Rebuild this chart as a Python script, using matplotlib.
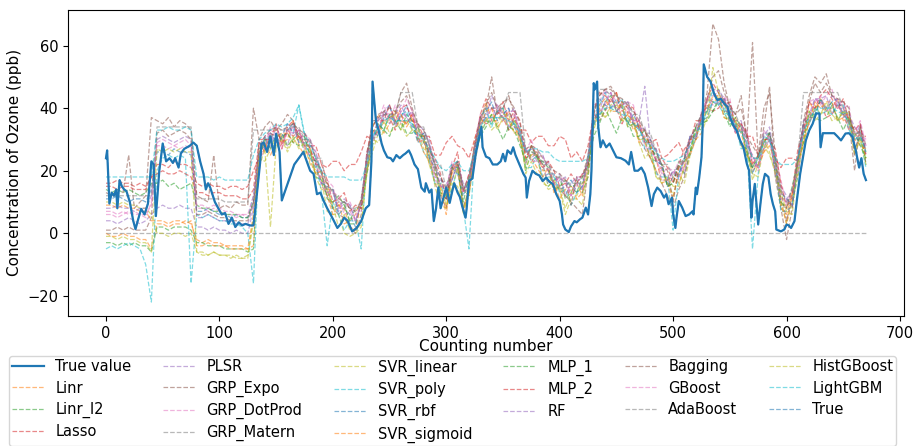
import numpy as np
import matplotlib
matplotlib.use('Agg')
import matplotlib.pyplot as plt

# measured ozone (counting number, ppb)
true_x = [0, 1, 3, 5, 7, 9, 10, 12, 14, 16, 18, 21, 24, 26, 28, 31, 34, 37, 40, 42, 44, 47, 50, 53, 56, 59,
          61, 64, 66, 69, 74, 77, 80, 83, 86, 88, 90, 92, 96, 99, 102, 105, 108, 111, 114, 117, 120, 123,
          127, 130, 133, 136, 137, 139, 142, 145, 148, 150, 153, 155, 166, 170, 174, 177, 180, 183, 186,
          189, 192, 195, 198, 201, 204, 207, 210, 213, 217, 221, 225, 229, 232, 234, 235, 238, 241, 243,
          245, 248, 251, 253, 256, 259, 262, 264, 267, 269, 272, 275, 278, 281, 282, 285, 287, 289, 291,
          293, 295, 298, 300, 303, 305, 307, 310, 312, 314, 317, 318, 320, 323, 326, 329, 331, 332, 335,
          338, 341, 345, 348, 350, 352, 354, 357, 359, 361, 365, 368, 370, 371, 373, 376, 379, 382, 385,
          388, 391, 394, 397, 400, 402, 403, 405, 408, 410, 413, 415, 418, 420, 423, 425, 427, 428, 430,
          431, 433, 434, 436, 438, 441, 444, 447, 450, 454, 458, 461, 463, 466, 469, 472, 475, 478, 481,
          483, 486, 489, 492, 494, 496, 499, 500, 502, 503, 505, 508, 511, 514, 517, 518, 520, 521, 523,
          525, 526, 527, 530, 533, 536, 539, 542, 545, 548, 550, 553, 556, 559, 562, 565, 567, 569, 570,
          572, 574, 575, 577, 579, 581, 584, 586, 588, 590, 591, 595, 598, 600, 602, 604, 607, 609, 612,
          615, 617, 620, 623, 626, 629, 630, 632, 637, 642, 645, 648, 652, 655, 658, 661, 664, 666, 668, 670]
true_y = [24, 26.5, 9.5, 13, 12, 14, 8, 17, 15, 14, 13.5, 10, 4, 1.3, 4, 7.8, 6, 9.5, 23, 22, 5.5, 20, 28.7,
          23, 24, 22.5, 24, 21, 25.5, 27, 28, 29, 28, 23, 19, 14, 16, 14.5, 10, 8, 6, 6.5, 3, 5, 2, 3.5,
          2.5, 3, 2.5, 2.5, 12.5, 23, 28.6, 29, 26, 31, 25, 31.8, 26, 10.5, 22, 24, 26, 23, 20, 19, 12.5,
          13, 10.3, 8, 6, 3.9, 1.7, 3, 5, 4, 0.6, 1.7, 3.9, 8, 9, 23, 48.5, 36, 32, 28.7, 26.5, 24.3, 24,
          23, 25, 24, 25, 25.5, 26.5, 25, 22, 20.5, 14.6, 13.3, 16, 13, 14, 3.9, 8, 14.6, 8, 12, 14.6, 9.7,
          13, 16, 13, 11.6, 8.7, 5, 8, 16.7, 17.5, 25.4, 30.7, 34, 27.5, 24.5, 24, 22, 22, 23, 25.4, 23,
          26.5, 25.4, 27.5, 25, 21.6, 19, 17.8, 11.4, 16.7, 20, 19, 18.5, 16.7, 17.8, 16.5, 15.7, 12.5,
          10.3, 6, 2.8, 1.2, 0.4, 2.2, 3.9, 3.5, 4.5, 5, 8.2, 6, 12.5, 20, 48, 46, 48.5, 34, 27.5, 29.7,
          27.5, 28.7, 26.5, 24.3, 24, 23.2, 22, 26, 20, 20, 21, 19, 14.6, 8.7, 12.5, 14.6, 13.5, 11.4,
          12.5, 9.3, 11.4, 6, 1.7, 5, 10.3, 8.2, 5.5, 6, 7, 6, 14.6, 12.5, 17.8, 24.3, 34, 54, 50, 48.5,
          44.7, 42.6, 43, 41.5, 40.4, 37.2, 34.5, 32.9, 29.7, 27.5, 22.2, 20, 5, 10.3, 15.8, 7, 2.8, 9.5,
          15.7, 19, 18, 12.5, 9.3, 7, 1.2, 0.6, 1.2, 2.8, 2.5, 1.7, 3.9, 10.3, 19, 25.4, 29.7, 32.9, 35,
          38.3, 38.3, 27.5, 32, 32, 32, 30.9, 29.7, 31.9, 32, 30.9, 26.5, 21, 24, 19, 17]

# model predictions, every 5th counting number (0 ... 670)
x_grid = list(range(0, 671, 5))

linr = [0, -1, -1, 0, -1, -1, -2, -2, -5, 3, 3, 2, 3, 3, 4, 3, -2, -3, -2, -3, -3, -4, -4, -4, -4, -5, -4,
        29, 26, 32, 33, 29, 30, 36, 28, 25, 27, 19, 18, 16, 8, 10, 3, 4, 6, 11, 22,
        34, 38, 35, 38, 39, 36, 35, 38, 29, 30, 22, 19, 16, 8, 19, 23, 8, 14, 30, 35,
        42, 36, 36, 39, 36, 32, 33, 24, 25, 26, 20, 20, 13, 15, 12, 14, 16, 12, 23, 34,
        40, 41, 43, 45, 36, 38, 35, 29, 31, 28, 24, 16, 17, 18, 16, 21, 30, 30, 32, 43,
        42, 43, 43, 36, 36, 28, 27, 20, 22, 26, 30, 24, 8, 6, 13, 19, 30, 42, 39, 43,
        39, 40, 43, 36, 37, 32, 30, 24]
linr_l2 = [-3, -3, -4, -3, -4, -3, -4, -4, -6, 2, 2, 1, 2, 2, 2, 1, -3, -3, -4, -4, -4, -5, -5, -5, -5, -6, -5,
           25, 30, 27, 31, 32, 28, 30, 32, 26, 26, 18, 17, 14, 8, 9, 10, 3, 3, 10, 20,
           33, 32, 33, 38, 36, 33, 38, 36, 30, 32, 25, 20, 12, 12, 17, 22, 14, 12, 25, 31,
           36, 35, 39, 40, 33, 36, 31, 20, 26, 25, 22, 15, 17, 18, 11, 13, 17, 13, 18, 37,
           37, 42, 44, 39, 41, 34, 35, 34, 30, 24, 23, 22, 15, 16, 22, 19, 26, 34, 33, 40,
           39, 42, 42, 35, 35, 34, 25, 21, 24, 27, 32, 20, 9, 9, 10, 18, 33, 38, 38, 43,
           40, 42, 36, 39, 35, 31, 33, 22]
lasso = [16, 16, 17, 16, 16, 15, 16, 15, 18, 22, 22, 21, 23, 22, 22, 21, 16, 15, 16, 15, 15, 14, 15, 15, 14, 15, 20,
         24, 27, 32, 31, 27, 33, 31, 33, 28, 28, 28, 22, 21, 23, 23, 20, 22, 22, 26, 31,
         30, 33, 38, 37, 33, 38, 35, 38, 31, 31, 31, 25, 25, 29, 31, 28, 27, 24, 30, 37,
         35, 36, 39, 37, 33, 37, 33, 33, 29, 31, 31, 28, 28, 31, 30, 24, 26, 23, 28, 38,
         36, 39, 43, 40, 35, 39, 35, 36, 29, 29, 30, 24, 25, 27, 29, 25, 31, 31, 37, 41,
         39, 40, 43, 38, 32, 35, 31, 31, 25, 29, 32, 24, 21, 24, 24, 23, 32, 35, 40, 42,
         37, 38, 41, 38, 33, 34, 31, 31]
plsr = [4, 4, 3, 4, 5, 4, 3, 4, 6, 8, 9, 8, 8, 9, 8, 8, 2, 2, 1, 2, 1, 1, 0, 1, 0, 0, 8,
        29, 27, 28, 34, 30, 28, 35, 31, 28, 30, 23, 20, 12, 13, 8, 11, 9, 4, 9, 20,
        31, 32, 39, 41, 34, 39, 37, 34, 35, 33, 29, 18, 17, 16, 17, 22, 16, 14, 24, 37,
        37, 40, 41, 38, 40, 34, 33, 26, 27, 23, 23, 23, 15, 17, 18, 12, 15, 19, 20, 38,
        38, 42, 45, 39, 42, 41, 35, 33, 34, 27, 27, 20, 16, 20, 21, 19, 31, 33, 36, 43,
        44, 45, 39, 39, 35, 35, 31, 21, 22, 27, 30, 20, 15, 12, 8, 24, 33, 36, 43, 43,
        44, 38, 42, 42, 36, 30, 35, 25]
grp_expo = [13, 12, 14, 13, 25, 8, 10, 12, 37, 36, 35, 37, 34, 36, 35, 33, 12, 11, 10, 25, 8, 9, 8, 10, 9, 9, 40,
            30, 34, 36, 33, 35, 38, 36, 31, 30, 27, 22, 16, 12, 8, 6, 5, 2, 0, 6, 26,
            34, 38, 39, 37, 38, 45, 48, 40, 34, 30, 24, 16, 12, 8, 20, 23, 8, 14, 28, 37,
            40, 50, 38, 40, 44, 38, 30, 22, 28, 24, 22, 20, 16, 14, 12, 10, 8, 6, 20, 38,
            44, 46, 47, 44, 42, 40, 36, 30, 27, 24, 20, 16, 12, 8, 14, 18, 26, 30, 38, 45,
            67, 62, 48, 40, 38, 44, 30, 61, 24, 34, 47, 18, 8, -2, 8, 24, 36, 44, 50, 48,
            51, 44, 42, 40, 36, 20, 35, 22]
grp_dotprod = [6, 6, 5, 6, 7, 6, 6, 5, 10, 29, 30, 29, 28, 29, 30, 28, 8, 8, 7, 8, 7, 6, 6, 5, 6, 5, 10,
               26, 28, 34, 34, 29, 32, 34, 29, 32, 30, 26, 16, 17, 15, 8, 8, 10, 6, 7, 26,
               30, 36, 41, 36, 41, 35, 40, 38, 33, 29, 28, 23, 15, 14, 23, 20, 13, 19, 25, 36,
               36, 40, 40, 37, 39, 39, 31, 26, 30, 24, 25, 20, 16, 18, 16, 12, 18, 18, 23, 41,
               42, 46, 40, 42, 41, 42, 41, 33, 31, 26, 24, 19, 21, 20, 17, 23, 30, 31, 39, 43,
               47, 41, 43, 43, 34, 33, 33, 23, 21, 33, 30, 25, 17, 9, 14, 20, 33, 42, 43, 41,
               44, 46, 40, 40, 41, 29, 33, 30]
grp_matern = [0, 0, 0, 0, 0, 0, 0, 0, 0, 0, 0, 0, 0, 0, 0, 0, 0, 0, 0, 0, 0, 0, 0, 0, 0, 0, 0,
              0, 0, 0, 0, 0, 0, 0, 0, 0, 0, 0, 0, 0, 0, 0, 0, 0, 0, 0, 0,
              0, 0, 0, 0, 0, 0, 0, 0, 0, 0, 0, 0, 0, 0, 0, 0, 0, 0, 0, 0,
              0, 0, 0, 0, 0, 0, 0, 0, 0, 0, 0, 0, 0, 0, 0, 0, 0, 0, 0, 0,
              0, 0, 0, 0, 0, 0, 0, 0, 0, 0, 0, 0, 0, 0, 0, 0, 0, 0, 0, 0,
              0, 0, 0, 0, 0, 0, 0, 0, 0, 0, 0, 0, 0, 0, 0, 0, 0, 0, 0, 0,
              0, 0, 0, 0, 0, 0, 0, 0]
svr_linear = [10, 10, 9, 10, 9, 9, 8, 8, 6, 0, 0, -1, 0, 0, -1, 0, -6, -7, -7, -6, -7, -7, -7, -8, -8, -7, 5,
              21, 27, 2, 28, 30, 26, 30, 30, 28, 22, 20, 17, 7, 6, 6, 0, -1, 0, 2, 21,
              26, 32, 36, 32, 34, 35, 31, 33, 33, 27, 26, 15, 9, 8, 16, 15, 8, 13, 23, 36,
              36, 38, 33, 37, 34, 36, 33, 19, 23, 19, 17, 14, 15, 14, 6, 11, 11, 9, 21, 36,
              40, 37, 41, 42, 36, 36, 37, 29, 24, 26, 18, 17, 17, 12, 19, 16, 25, 32, 35, 36,
              42, 44, 37, 36, 36, 28, 25, 19, 18, 28, 25, 20, 11, 3, 10, 23, 28, 36, 41, 38,
              42, 38, 36, 39, 35, 25, 31, 24]
svr_poly = [-5, -4, -5, -4, -3, -4, -5, -10, -22, 20, 24, 25, 24, 25, 24, -16, 6, 5, 6, 5, 4, 4, 3, 3, 2, 0, -16,
            27, 28, 32, 30, 31, 35, 32, 41, 31, 24, 23, 13, -4, 10, 6, 1, 4, 4, -5, 25,
            30, 35, 33, 38, 35, 38, 39, 33, 31, 26, 23, 16, 16, 11, 14, 21, 8, -5, 27, 37,
            40, 34, 39, 40, 34, 35, 34, 21, 21, 25, 17, 18, 18, 13, 14, 9, 13, 15, 22, 34,
            41, 45, 40, 41, 43, 35, 34, 35, 27, 27, 19, 18, 18, 1, 19, 24, 25, 31, 38, 39,
            46, 41, 38, 39, 34, 27, 28, -5, 19, 31, 30, 23, 7, 7, 9, 23, 34, 35, 40, 38,
            39, 38, 41, 41, 33, 30, 30, 21]
svr_rbf = [11, 11, 12, 11, 10, 11, 11, 10, 14, 26, 26, 25, 27, 26, 26, 25, 7, 7, 8, 7, 6, 6, 5, 6, 5, 5, 12,
           25, 31, 27, 32, 30, 33, 35, 29, 29, 24, 21, 16, 15, 14, 6, 8, 6, 2, 11, 24,
           33, 31, 37, 41, 35, 37, 41, 35, 29, 32, 24, 21, 18, 11, 21, 19, 12, 17, 27, 33,
           39, 42, 36, 38, 40, 34, 31, 27, 23, 25, 18, 19, 19, 14, 15, 17, 13, 15, 25, 35,
           43, 41, 40, 43, 40, 35, 38, 34, 29, 30, 23, 22, 15, 18, 19, 24, 31, 30, 36, 37,
           42, 41, 43, 41, 32, 33, 28, 19, 24, 31, 32, 19, 13, 11, 9, 22, 35, 37, 37, 43,
           39, 42, 43, 38, 39, 27, 31, 27]
svr_sigmoid = [9, 9, 8, 9, 8, 8, 7, 7, 4, 4, 4, 3, 4, 4, 3, 4, -4, -4, -3, -4, -4, -4, -5, -5, -5, -5, 6,
               26, 29, 25, 29, 32, 32, 29, 31, 28, 23, 19, 20, 12, 6, 9, 8, 2, 1, 10, 20,
               32, 35, 32, 35, 39, 38, 34, 37, 31, 26, 23, 21, 14, 6, 20, 22, 7, 12, 28, 34,
               39, 40, 34, 36, 39, 35, 29, 26, 24, 21, 18, 21, 16, 11, 14, 15, 11, 13, 24, 35,
               41, 43, 39, 39, 42, 38, 33, 35, 29, 24, 20, 21, 16, 11, 21, 23, 25, 30, 38, 39,
               44, 44, 37, 36, 37, 32, 25, 22, 21, 26, 28, 23, 10, 3, 12, 23, 29, 36, 42, 40,
               42, 42, 36, 37, 39, 30, 28, 27]
mlp_1 = [14, 13, 14, 13, 14, 13, 12, 13, 16, 16, 17, 15, 16, 14, 15, 16, 9, 8, 8, 7, 7, 6, 6, 6, 5, 5, 10,
         23, 30, 29, 27, 31, 32, 29, 28, 31, 25, 23, 19, 11, 10, 12, 9, 4, 8, 8, 19,
         28, 35, 33, 31, 36, 36, 32, 32, 34, 29, 27, 22, 13, 11, 21, 21, 10, 18, 25, 31,
         34, 38, 34, 30, 34, 33, 28, 23, 28, 24, 23, 21, 14, 15, 17, 15, 13, 18, 22, 31,
         35, 40, 36, 32, 37, 36, 31, 31, 33, 27, 25, 22, 15, 16, 23, 23, 26, 34, 35, 36,
         39, 43, 39, 34, 37, 34, 26, 21, 25, 29, 32, 24, 10, 8, 15, 23, 29, 39, 37, 36,
         37, 41, 37, 33, 37, 32, 28, 24]
mlp_2 = [15, 15, 14, 15, 15, 14, 14, 14, 18, 19, 20, 19, 19, 20, 19, 18, 13, 13, 12, 13, 13, 12, 12, 12, 11, 11, 14,
         30, 30, 30, 35, 28, 34, 36, 30, 32, 27, 22, 22, 17, 10, 11, 13, 7, 9, 8, 25,
         36, 36, 36, 41, 36, 40, 41, 36, 35, 31, 26, 24, 19, 11, 21, 26, 13, 19, 26, 38,
         43, 40, 38, 42, 36, 39, 36, 24, 28, 25, 21, 23, 20, 15, 16, 19, 16, 19, 22, 39,
         45, 44, 42, 45, 39, 41, 40, 33, 33, 28, 23, 24, 21, 16, 22, 27, 29, 36, 36, 43,
         48, 45, 41, 42, 34, 35, 32, 22, 25, 30, 30, 27, 16, 8, 13, 27, 33, 42, 40, 44,
         46, 43, 40, 43, 36, 33, 35, 25]
rf = [8, 8, 9, 8, 8, 7, 8, 8, 12, 30, 31, 30, 29, 30, 31, 30, 5, 5, 6, 5, 4, 4, 4, 3, 3, 3, 9,
      24, 31, 32, 29, 31, 35, 32, 33, 28, 28, 26, 19, 13, 14, 7, 10, 9, 4, 10, 22,
      30, 37, 38, 35, 38, 41, 37, 39, 31, 32, 30, 21, 15, 15, 17, 23, 15, 14, 28, 35,
      37, 44, 40, 36, 38, 40, 32, 27, 24, 26, 25, 20, 16, 19, 12, 16, 18, 14, 24, 36,
      39, 45, 45, 39, 41, 42, 36, 36, 47, 29, 27, 21, 17, 20, 18, 24, 31, 31, 38, 40,
      43, 46, 43, 36, 36, 36, 28, 25, 21, 31, 34, 23, 11, 11, 9, 24, 36, 38, 43, 42,
      40, 44, 42, 37, 38, 34, 32, 28]
bagging = [1, 1, 2, 1, 2, 1, 1, 1, 5, 32, 33, 31, 32, 33, 32, 30, 6, 6, 7, 6, 5, 5, 4, 4, 4, 4, 10,
           28, 31, 33, 34, 33, 34, 35, 33, 32, 29, 24, 20, 16, 13, 11, 10, 8, 7, 10, 25,
           34, 37, 39, 40, 39, 42, 44, 39, 35, 33, 28, 22, 18, 14, 21, 23, 14, 17, 28, 37,
           41, 45, 40, 42, 43, 40, 35, 27, 28, 27, 24, 22, 20, 19, 17, 9, 18, 18, 25, 39,
           44, 46, 46, 44, 43, 41, 39, 36, 33, 30, 26, 22, 20, 10, 21, 24, 30, 34, 38, 43,
           50, 52, 45, 41, 38, 40, 31, 28, 25, 40, 45, 25, 14, 4, 12, 24, 35, 42, 48, 45,
           48, 44, 43, 42, 40, 25, 34, 28]
gboost = [7, 7, 6, 7, 6, 7, 6, 6, 9, 28, 28, 27, 28, 27, 28, 27, 9, 9, 8, 9, 8, 7, 7, 6, 6, 6, 12,
          23, 27, 33, 32, 27, 33, 32, 33, 27, 25, 23, 15, 13, 13, 12, 6, 7, 4, 10, 25,
          29, 33, 39, 38, 35, 39, 43, 39, 30, 29, 27, 17, 15, 14, 22, 19, 13, 14, 28, 38,
          36, 37, 41, 39, 34, 38, 32, 27, 23, 23, 22, 16, 16, 18, 17, 12, 16, 14, 24, 39,
          38, 41, 45, 42, 37, 40, 36, 36, 28, 26, 24, 17, 17, 19, 23, 20, 29, 31, 38, 43,
          41, 42, 44, 39, 32, 34, 28, 25, 20, 28, 31, 19, 11, 10, 14, 20, 33, 37, 42, 44,
          39, 40, 43, 40, 34, 32, 36, 28]
adaboost = [12, 12, 12, 12, 12, 12, 12, 12, 12, 34, 34, 34, 34, 34, 34, 34, 11, 11, 11, 11, 11, 10, 10, 10, 10, 10, 33,
            33, 33, 33, 33, 33, 33, 34, 34, 30, 30, 24, 24, 14, 14, 10, 10, 8, 8, 10, 24,
            36, 36, 38, 38, 38, 45, 45, 45, 34, 34, 28, 22, 22, 14, 22, 22, 14, 18, 28, 36,
            40, 40, 40, 40, 45, 45, 45, 26, 26, 26, 22, 22, 18, 18, 16, 16, 16, 16, 24, 38,
            46, 46, 44, 44, 42, 42, 38, 38, 32, 32, 26, 22, 22, 18, 22, 24, 30, 34, 38, 42,
            46, 46, 42, 40, 38, 34, 30, 24, 24, 32, 32, 24, 14, 10, 14, 24, 45, 45, 45, 45,
            45, 45, 45, 40, 38, 32, 32, 26]
histgboost = [-1, -1, -2, -1, -2, -2, -3, -3, -6, 27, 26, 27, 26, 27, 26, 26, -6, -6, -7, -6, -7, -7, -8, -7, -8, -8, 4,
              24, 23, 27, 31, 31, 27, 31, 27, 29, 27, 18, 14, 14, 9, 2, 6, 1, 1, 3, 19,
              30, 29, 33, 37, 38, 33, 36, 33, 32, 31, 22, 16, 15, 9, 14, 21, 6, 16, 22, 32,
              37, 33, 35, 38, 38, 32, 31, 21, 25, 25, 16, 15, 17, 14, 8, 13, 12, 16, 18, 33,
              39, 37, 39, 41, 41, 34, 35, 30, 30, 28, 18, 16, 18, 15, 15, 22, 26, 33, 32, 37,
              53, 45, 41, 39, 36, 28, 27, 17, 22, 30, 26, 19, 13, 7, 6, 22, 30, 39, 36, 38,
              40, 36, 37, 39, 38, 26, 30, 22]
lightgbm = [18, 18, 18, 18, 18, 18, 18, 18, 18, 33, 33, 34, 33, 33, 34, 33, 18, 18, 18, 17, 18, 17, 17, 17, 17, 17, 25,
            30, 32, 33, 35, 34, 35, 37, 41, 32, 28, 24, 20, 18, 18, 18, 18, 17, 17, 17, 22,
            31, 34, 36, 37, 36, 36, 36, 35, 32, 30, 27, 24, 21, 20, 22, 23, 20, 20, 26, 34,
            37, 37, 37, 37, 36, 35, 32, 26, 27, 27, 26, 26, 24, 23, 23, 23, 23, 23, 24, 35,
            38, 40, 40, 39, 38, 37, 35, 33, 30, 28, 26, 24, 23, 23, 24, 25, 28, 32, 35, 39,
            42, 42, 40, 37, 35, 32, 29, 24, 24, 29, 30, 24, 22, 22, 22, 24, 32, 37, 39, 40,
            40, 40, 39, 38, 36, 30, 31, 26]

model_names = ['Linr', 'Linr_l2', 'Lasso', 'PLSR', 'GRP_Expo', 'GRP_DotProd', 'GRP_Matern',
               'SVR_linear', 'SVR_poly', 'SVR_rbf', 'SVR_sigmoid', 'MLP_1', 'MLP_2', 'RF',
               'Bagging', 'GBoost', 'AdaBoost', 'HistGBoost', 'LightGBM']
model_preds = [linr, linr_l2, lasso, plsr, grp_expo, grp_dotprod, grp_matern,
               svr_linear, svr_poly, svr_rbf, svr_sigmoid, mlp_1, mlp_2, rf,
               bagging, gboost, adaboost, histgboost, lightgbm]

plt.rcParams['font.family'] = 'DejaVu Sans'
fig = plt.figure(figsize=(9.14, 4.46), dpi=100)
ax = fig.add_axes([0.0744, 0.2915, 0.9146, 0.6865])

ax.plot(true_x, true_y, color='C0', linewidth=1.6, label='True value', zorder=3)
for i, (name, pred) in enumerate(zip(model_names, model_preds)):
    ax.plot(x_grid, pred, '--', color='C%d' % ((i + 1) % 10), linewidth=0.9,
            alpha=0.55, label=name)
ax.plot(true_x, true_y, '--', color='C0', linewidth=0.9, alpha=0.55, label='True')

ax.set_xticks([0, 100, 200, 300, 400, 500, 600, 700])
ax.set_yticks([-20, 0, 20, 40, 60])
ax.tick_params(labelsize=10.5)
ax.set_xlabel('Counting number', fontsize=11, labelpad=-1)
ax.set_ylabel('Concentration of Ozone (ppb)', fontsize=11)
ax.legend(ncol=6, loc='upper center', bbox_to_anchor=(0.46, -0.118), fontsize=10.5,
          handlelength=2.2, columnspacing=2.15, labelspacing=0.42, borderpad=0.2,
          borderaxespad=0.3)

fig.savefig('out.png', dpi=100)
